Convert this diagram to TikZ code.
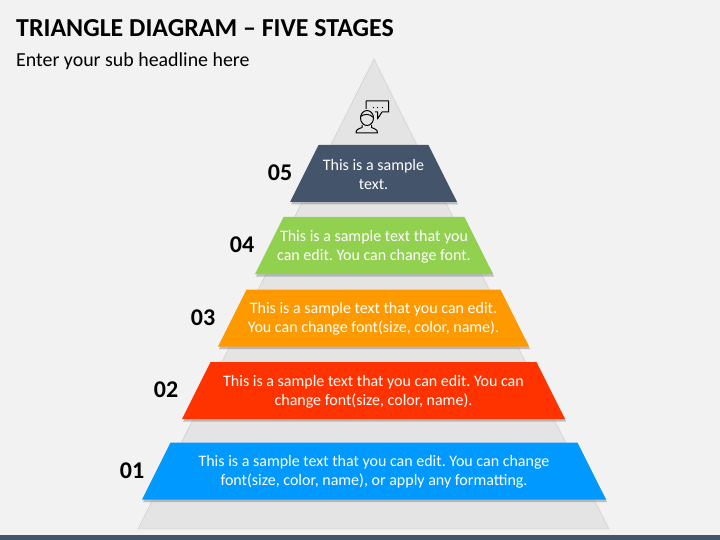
\documentclass[tikz,border=0pt]{standalone}
\usepackage{fontspec}
\setmainfont{Carlito}
\usetikzlibrary{shapes.geometric, shadows}
\definecolor{pagebg}{RGB}{242,242,242}
\definecolor{barblue}{RGB}{68,84,106}
\definecolor{trifill}{RGB}{228,228,228}
\definecolor{triline}{RGB}{200,200,200}
\definecolor{stagefive}{RGB}{68,84,106}
\definecolor{stagefour}{RGB}{146,208,80}
\definecolor{stagethree}{RGB}{255,153,0}
\definecolor{stagetwo}{RGB}{255,51,0}
\definecolor{stageone}{RGB}{0,153,255}
\tikzset{
    stagebox/.style={trapezium, trapezium stretches body=true, trapezium angle=63.4, inner sep=0pt, execute at begin node=\rule{0pt}{57pt}, drop shadow={shadow xshift=1pt, shadow yshift=-2.5pt, opacity=0.45}},
    stagetext/.style={yshift=-1pt, inner sep=0pt, text=white, align=center, font=\fontsize{16}{19}\selectfont\frenchspacing},
    numlabel/.style={font=\fontsize{24}{28}\selectfont\bfseries, text=black},
    iconline/.style={draw=black, line width=1pt, line join=round}
}

\begin{document}
\begin{tikzpicture}[x=1pt, y=-1pt]
    \useasboundingbox (0,0) rectangle (720,540);
    \fill[pagebg] (0,0) rectangle (720,540);
    \fill[barblue] (0,535) rectangle (720,540);

    % heading
    \node[anchor=west, inner sep=0pt, font=\fontsize{25.9}{28}\selectfont\bfseries] (title) at (16,28) {TRIANGLE DIAGRAM – FIVE STAGES};
    \node[anchor=west, inner sep=0pt, font=\fontsize{19.9}{23}\selectfont] (subtitle) at (16,61) {Enter your sub headline here};

    % background triangle
    \draw[fill=trifill, draw=triline] (374,59) -- (609,529) -- (138,529) -- cycle;

    % stages
    \node[stagebox, fill=stageone, minimum width=464pt] (stage01) at (374,471) {};
    \node[stagebox, fill=stagetwo, minimum width=383pt] (stage02) at (373.5,390.5) {};
    \node[stagebox, fill=stagethree, minimum width=311pt] (stage03) at (373.5,318) {};
    \node[stagebox, fill=stagefour, minimum width=238pt] (stage04) at (374,245.5) {};
    \node[stagebox, fill=stagefive, minimum width=167pt] (stage05) at (373.5,173.5) {};

    % stage texts
    \node[stagetext] (text01) at (stage01) {This is a sample text that you can edit. You can change\\font(size, color, name), or apply any formatting.};
    \node[stagetext] (text02) at (stage02) {This is a sample text that you can edit. You can\\change font(size, color, name).};
    \node[stagetext] (text03) at (stage03) {This is a sample text that you can edit.\\You can change font(size, color, name).};
    \node[stagetext] (text04) at (stage04) {This is a sample text that you\\can edit. You can change font.};
    \node[stagetext] (text05) at (stage05) {This is a sample\\text.};

    % stage numbers
    \node[numlabel] (num01) at (132,471) {01};
    \node[numlabel] (num02) at (166,390) {02};
    \node[numlabel] (num03) at (203,318) {03};
    \node[numlabel] (num04) at (242,245) {04};
    \node[numlabel] (num05) at (280,172.5) {05};

    % icon: person
    \draw[iconline] (367,118) ellipse [x radius=6.5, y radius=7.5];
    \draw[iconline] (360.5,116.5) .. controls (364,114) and (369,113) .. (373.5,117.5);
    \draw[iconline] (362,125) -- (362,127.5) .. controls (358,129) and (356,129.5) .. (356,133) -- (377.5,133) .. controls (377.5,129.5) and (375,129) .. (371.5,127.5) -- (371.5,125);
    % icon: speech bubble
    \draw[iconline] (366,109) -- (366,101) -- (388.5,101) -- (388.5,112) -- (382,112) -- (377.5,119) -- (377.5,112) -- (375,112);
    \foreach \x in {373.5,377.5,382.5} {
        \fill[black] (\x,107.5) circle (0.6);
    }
\end{tikzpicture}
\end{document}
